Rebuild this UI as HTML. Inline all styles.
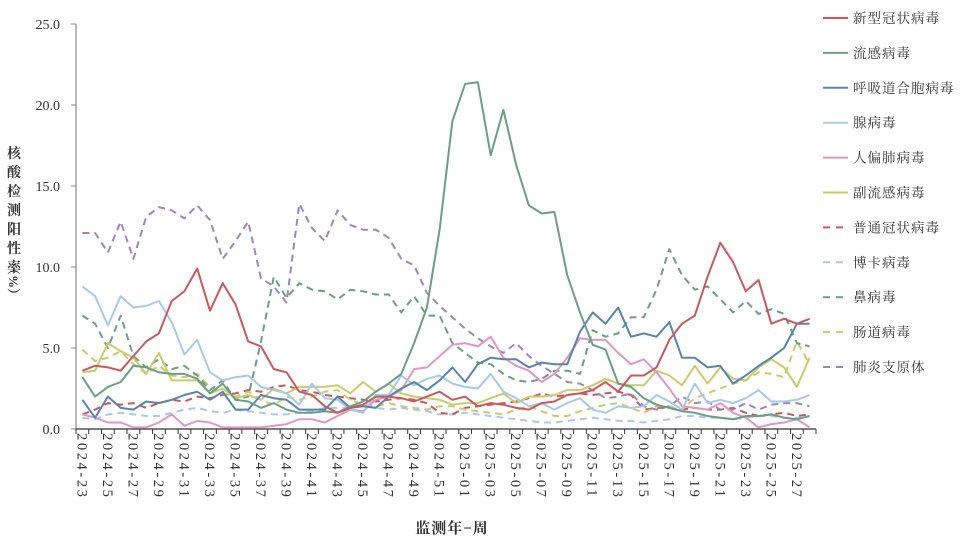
<!DOCTYPE html>
<html><head><meta charset="utf-8">
<style>
html,body{margin:0;padding:0;background:#fff;}
svg{display:block;}
text{font-family:"Liberation Serif","Noto Serif CJK SC","Noto Sans CJK SC",serif;fill:#333;}
</style></head>
<body>
<svg id="chart" width="960" height="540" viewBox="0 0 960 540">
<g id="grid"></g>
<g id="series"></g>
<g id="legend"></g>
<text x="452" y="533" font-size="15" font-weight="bold" text-anchor="middle" letter-spacing="1">监测年−周</text>
</svg>
<script>
const weeks = [];
for (let w = 23; w <= 52; w++) weeks.push('2024-' + w);
for (let w = 1; w <= 28; w++) weeks.push('2025-' + String(w).padStart(2, '0'));
const yTicks = [0, 5, 10, 15, 20, 25];
const seriesNames = ['新型冠状病毒','流感病毒','呼吸道合胞病毒','腺病毒','人偏肺病毒','副流感病毒','普通冠状病毒','博卡病毒','鼻病毒','肠道病毒','肺炎支原体'];
const covid = [3.6,3.9,3.8,3.6,4.5,5.4,5.9,7.9,8.5,9.9,7.3,9.0,7.7,5.4,5.1,3.7,3.5,2.3,2.1,1.4,1.0,1.3,1.5,2.0,2.0,1.9,1.7,2.0,2.3,1.8,2.0,1.4,1.6,1.5,1.3,1.2,1.6,1.7,2.1,2.2,2.4,2.9,2.3,3.3,3.3,3.8,5.5,6.5,7.0,9.4,11.5,10.3,8.5,9.2,6.5,6.8,6.5,6.8];
const flu = [3.2,2.0,2.6,2.9,3.9,3.8,3.5,3.4,3.4,3.1,2.2,2.8,1.8,1.7,1.3,1.6,1.2,1.0,1.0,1.1,1.0,1.4,1.7,2.3,2.8,3.4,5.3,7.5,12.3,19.0,21.3,21.4,16.9,19.7,16.3,13.8,13.3,13.4,9.5,7.2,5.2,4.9,2.8,2.6,1.9,1.5,1.3,1.1,1.0,0.8,0.7,0.6,0.8,0.8,0.9,0.7,0.6,0.8];
const rsv = [1.8,0.7,2.0,1.3,1.2,1.7,1.6,1.8,2.1,2.3,1.8,2.3,1.2,1.2,2.1,1.9,1.8,1.2,1.2,1.2,2.0,1.3,1.4,1.3,2.0,2.5,2.9,2.4,3.0,3.8,2.9,4.0,4.4,4.3,4.3,3.8,4.1,4.0,4.0,6.0,7.2,6.5,7.5,5.7,5.9,5.7,6.6,4.4,4.4,3.8,3.9,2.8,3.3,3.9,4.4,5.0,6.5,6.5];
const adeno = [8.8,8.2,6.4,8.2,7.5,7.6,7.9,6.6,4.6,5.5,3.5,3.0,3.2,3.3,2.6,2.4,2.2,1.5,2.8,1.9,1.8,1.2,1.0,2.1,2.1,3.3,2.7,3.1,3.3,2.8,2.6,2.5,3.4,2.3,1.9,1.4,1.6,1.2,1.6,1.9,1.2,1.0,1.4,1.3,1.4,2.1,1.7,1.2,2.8,1.6,1.8,1.6,1.9,2.4,1.7,1.7,1.8,2.1];
const hmpv = [0.9,0.7,0.4,0.4,0.1,0.1,0.4,0.9,0.2,0.5,0.4,0.1,0.1,0.1,0.1,0.2,0.3,0.6,0.6,0.4,0.8,1.2,1.1,1.8,2.0,2.4,3.7,3.8,4.5,5.2,5.3,5.1,5.7,4.4,3.9,3.6,2.9,3.4,4.4,5.6,5.5,5.5,4.7,4.0,4.3,3.5,2.5,1.4,1.3,1.2,1.6,1.0,0.7,0.1,0.3,0.4,0.6,0.1];
const paraflu = [3.5,3.6,5.3,4.8,4.4,3.4,4.7,3.0,3.0,3.0,2.2,2.5,1.9,2.1,1.8,2.5,2.2,2.6,2.6,2.6,2.7,2.2,2.9,2.3,2.8,2.2,2.0,1.9,1.8,1.5,1.6,1.6,1.9,2.2,1.6,2.0,2.0,2.1,2.4,2.4,2.7,3.1,2.8,2.7,2.7,3.6,3.3,2.7,3.9,2.8,3.8,3.1,3.0,3.8,4.3,3.8,2.6,4.4];
const hcov = [0.9,1.2,1.6,1.5,1.6,1.3,1.6,1.8,1.7,2.0,1.9,2.1,2.2,2.4,2.3,2.6,2.7,2.4,2.3,2.1,2.0,1.9,1.8,1.7,1.8,1.9,1.8,1.6,1.0,0.9,1.3,1.4,1.5,1.6,1.7,1.9,2.2,2.0,2.1,2.2,2.1,2.2,2.3,2.1,1.2,1.3,1.3,1.2,1.3,1.2,1.2,1.3,1.0,0.8,0.9,1.0,0.8,0.9];
const boca = [0.7,0.6,0.9,1.0,0.9,0.8,0.8,1.0,1.2,1.3,1.1,1.0,1.2,1.1,1.0,0.9,0.9,1.0,1.1,1.3,1.3,1.3,1.5,1.3,1.2,1.3,1.2,1.1,0.9,0.9,1.0,0.9,0.8,0.7,0.6,0.5,0.4,0.4,0.5,0.6,0.7,0.6,0.5,0.5,0.4,0.5,0.6,0.8,0.8,0.7,0.7,0.6,0.7,0.8,0.8,0.7,0.7,0.8];
const rhino = [7.0,6.5,5.0,7.0,4.5,3.8,4.3,3.7,3.9,3.3,2.4,3.0,1.8,2.0,5.4,9.4,8.1,9.0,8.6,8.5,8.0,8.6,8.5,8.3,8.3,7.2,8.2,7.0,7.0,5.3,4.7,4.1,4.0,3.4,3.0,2.9,3.1,3.6,3.6,3.4,6.1,5.7,5.9,6.9,6.9,8.6,11.1,9.5,8.6,8.8,8.0,7.2,7.9,7.1,7.4,7.1,5.3,5.1];
const entero = [4.9,4.2,4.4,4.8,4.0,3.4,3.9,3.3,3.2,3.4,2.6,2.2,2.0,2.3,1.8,1.5,2.0,1.8,2.0,2.3,2.4,1.8,1.5,1.4,1.6,1.4,1.3,1.2,1.4,1.4,1.2,1.1,1.0,0.9,1.2,1.4,1.1,0.8,0.8,1.1,1.3,1.5,1.6,1.3,1.0,1.4,1.4,1.2,1.9,2.2,2.5,2.8,3.0,3.5,3.4,3.2,5.4,4.0];
const myco = [12.1,12.1,10.9,12.8,10.5,13.1,13.7,13.5,13.0,13.8,12.9,10.5,11.6,12.8,9.3,8.8,7.8,13.9,12.4,11.6,13.5,12.6,12.3,12.3,11.8,10.5,10.1,8.4,7.6,6.9,6.2,5.6,5.1,4.7,5.3,4.5,3.9,3.4,2.9,2.8,2.4,1.9,2.0,2.2,1.4,1.2,1.4,2.0,1.6,1.7,1.2,1.2,1.6,1.2,1.5,1.6,1.6,1.4];

const NS='http://www.w3.org/2000/svg';
const X0=76, X1=816, Y0=429, Y25=24;
const step=(X1-X0)/weeks.length;
function xS(i){return X0+step*(i+0.5);}
function yS(v){return Y0-(Y0-Y25)*v/25;}
function mk(tag,attrs,parent){const e=document.createElementNS(NS,tag);for(const k in attrs)e.setAttribute(k,attrs[k]);parent.appendChild(e);return e;}

const grid=document.getElementById('grid');
let ax=mk('line',{x1:X0,y1:Y25,x2:X0,y2:Y0,stroke:'#888','stroke-width':1.2},grid);


let bx=mk('line',{x1:X0,y1:Y0,x2:X1,y2:Y0,stroke:'#333','stroke-width':1.2},grid);


yTicks.forEach(v=>{
  const y=yS(v);
  mk('line',{x1:X0-5,y1:y,x2:X0,y2:y,stroke:'#888'},grid);
  const t=mk('text',{x:X0-16,y:y+5,'font-size':14,'text-anchor':'end'},grid);
  t.textContent=v.toFixed(1);
  
  
});
for(let i=0;i<=weeks.length;i++){
  const x=X0+step*i;
  mk('line',{x1:x,y1:Y0,x2:x,y2:Y0+5,stroke:'#333'},grid);
}
weeks.forEach((w,i)=>{
  if(i%2!==0)return;
  const x=xS(i);
  const t=mk('text',{x:0,y:0,'font-size':14.5,'letter-spacing':2.6,transform:`translate(${x-5},${Y0+4}) rotate(90)`},grid);
  t.textContent=w;
  
  
});
const ytg=mk('g',{},document.getElementById('chart'));


const ychars=['核','酸','检','测','阳','性','率'];
ychars.forEach((c,i)=>{const t=mk('text',{x:14,y:158+i*19,'font-size':14,'font-weight':'bold','text-anchor':'middle'},ytg);t.textContent=c;});
const pct=mk('text',{x:0,y:0,'font-size':13,'font-weight':'bold',transform:'translate(9,262) rotate(90)'},ytg);
pct.textContent='（%）';

const allData=[covid,flu,rsv,adeno,hmpv,paraflu,hcov,boca,rhino,entero,myco];
const colors=['#c9595c','#6c9e86','#5a83ae','#a8c9ea','#df97c5','#c8cc6c','#c9595c','#a8c9ea','#6c9e86','#c8cc6c','#9a86c0'];
const dashed=[false,false,false,false,false,false,true,true,true,true,true];
const keys=['covid','flu','rsv','adeno','hmpv','paraflu','hcov','boca','rhino','entero','myco'];
const sg=document.getElementById('series');
const order=[7,6,9,8,10,5,4,3,2,1,0];
order.forEach(s=>{
  const d=allData[s].map((v,i)=>(i?'L':'M')+xS(i).toFixed(1)+','+yS(v).toFixed(1)).join(' ');
  const p=mk('path',{d:d,fill:'none',stroke:colors[s],'stroke-width':2,'stroke-linejoin':'round'},sg);
  if(dashed[s])p.setAttribute('stroke-dasharray','7,5');
  
  
});
const lg=document.getElementById('legend');
seriesNames.forEach((n,i)=>{
  const y=18+i*34.9;
  const g=mk('g',{},lg);
  
  
  const l=mk('line',{x1:823,y1:y,x2:848,y2:y,stroke:colors[i],'stroke-width':2},g);
  if(dashed[i])l.setAttribute('stroke-dasharray','7,6');
  const t=mk('text',{x:853,y:y+5,'font-size':13.5,'letter-spacing':1,fill:'#444'},g);
  t.textContent=n;
});
</script>
</body></html>
